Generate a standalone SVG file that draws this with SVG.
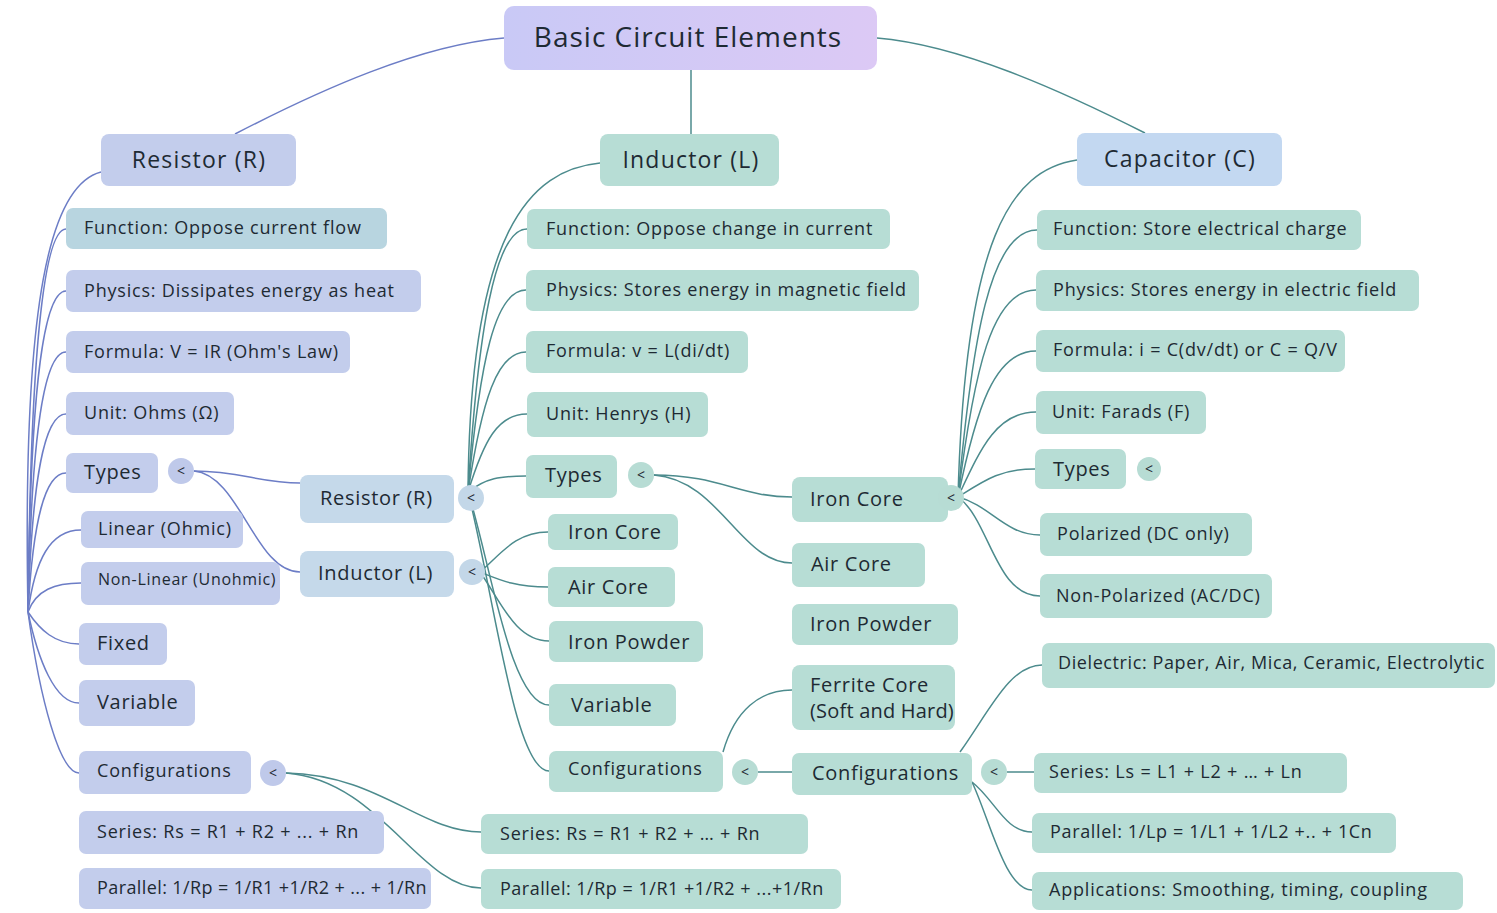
<svg xmlns="http://www.w3.org/2000/svg" width="1497" height="913" viewBox="0 0 1497 913">
<defs>
<linearGradient id="gRoot" x1="0" y1="0" x2="1" y2="0"><stop offset="0" stop-color="#c9c9f6"/><stop offset="1" stop-color="#dcc9f5"/></linearGradient>
<style>
text{font-family:"Open Sans","Liberation Sans",sans-serif;fill:#1e2a33;}
.b{fill:#c3cdec;}
.bc{fill:#b8d5e0;}
.lb{fill:#c5d9ea;}
.t{fill:#b7ddd5;}
.cap{fill:#c3d8f1;}
.cb{fill:#bfc9ea;}
.ct{fill:#b7dcd4;}
.cl{fill:#c3d7e8;}
.s{font-size:18px;letter-spacing:0.8px;}
.m{font-size:20px;letter-spacing:0.7px;}
.h{font-size:23px;letter-spacing:1.2px;}
.k{font-size:14px;text-anchor:middle;}
.lnb{fill:none;stroke:#6c7dc6;stroke-width:1.5;}
.lnt{fill:none;stroke:#4c8b8d;stroke-width:1.5;}
</style>
</defs>
<rect width="1497" height="913" fill="#ffffff"/>

<g id="connectors">
<!-- root -->
<path class="lnb" d="M504,38 C420,45 320,90 235,134"/>
<path class="lnt" d="M877,38 C960,45 1060,90 1145,133"/>
<path class="lnt" d="M691,70 L691,134"/>
<!-- left resistor fan -->
<path class="lnb" d="M101,172 C50,185 22,300 28,612"/>
<path class="lnb" d="M28,612 C30,400 40,229 66,229"/>
<path class="lnb" d="M28,612 C30,420 40,291 66,291"/>
<path class="lnb" d="M28,612 C31,450 42,352 66,352"/>
<path class="lnb" d="M28,612 C32,480 44,414 66,414"/>
<path class="lnb" d="M28,612 C33,520 45,473 66,473"/>
<path class="lnb" d="M28,612 C35,560 50,530 81,530"/>
<path class="lnb" d="M28,612 C36,590 55,583 81,583"/>
<path class="lnb" d="M28,612 C40,630 55,644 79,644"/>
<path class="lnb" d="M28,612 C38,660 55,703 79,703"/>
<path class="lnb" d="M28,612 C40,700 60,773 79,773"/>
<path class="lnb" d="M194,471 C240,471 260,483 300,483"/>
<path class="lnb" d="M194,471 C240,475 255,572 300,572"/>
<path class="lnt" d="M286,773 C380,775 420,832 481,832"/>
<path class="lnt" d="M286,773 C380,780 420,888 481,888"/>
<!-- inductor fan -->
<path class="lnt" d="M600,163 C530,170 470,230 468,492"/>
<path class="lnt" d="M468,492 C478,330 495,229 527,229"/>
<path class="lnt" d="M468,492 C480,360 495,290 526,290"/>
<path class="lnt" d="M468,492 C482,400 497,352 526,352"/>
<path class="lnt" d="M468,492 C484,440 498,414 527,414"/>
<path class="lnt" d="M468,492 C486,478 500,476 526,476"/>
<path class="lnt" d="M480,572 C500,555 515,532 548,532"/>
<path class="lnt" d="M480,572 C500,580 515,587 548,587"/>
<path class="lnt" d="M480,572 C500,600 515,641 549,641"/>
<path class="lnt" d="M468,492 C490,560 510,705 549,705"/>
<path class="lnt" d="M468,492 C495,600 515,771 549,771"/>
<path class="lnt" d="M654,475 C720,475 740,497 792,497"/>
<path class="lnt" d="M654,475 C720,480 740,563 792,563"/>
<path class="lnt" d="M723,752 C735,710 760,690 792,690"/>
<path class="lnt" d="M758,772 L792,772"/>
<!-- capacitor fan -->
<path class="lnt" d="M1077,160 C1010,170 965,240 958,497"/>
<path class="lnt" d="M958,497 C972,340 990,230 1037,230"/>
<path class="lnt" d="M958,497 C974,370 992,290 1036,290"/>
<path class="lnt" d="M958,497 C976,410 994,351 1036,351"/>
<path class="lnt" d="M958,497 C980,450 996,412 1036,412"/>
<path class="lnt" d="M958,497 C985,480 1000,469 1035,469"/>
<path class="lnt" d="M958,497 C990,505 1005,535 1040,535"/>
<path class="lnt" d="M958,497 C990,520 995,596 1040,596"/>
<path class="lnt" d="M960,752 C990,710 1010,665 1042,665"/>
<path class="lnt" d="M1007,772 L1034,772"/>
<path class="lnt" d="M972,782 C995,800 1005,832 1032,832"/>
<path class="lnt" d="M972,782 C990,820 1005,890 1032,890"/>
</g>

<g id="root"><rect x="504" y="6" width="373" height="64" rx="10" fill="url(#gRoot)"/><text x="688" y="47" font-size="28" letter-spacing="1" text-anchor="middle">Basic Circuit Elements</text></g>

<g id="resistor"><rect class="b" x="101" y="134" width="195" height="52" rx="8"/><text class="h" x="199" y="168" text-anchor="middle">Resistor (R)</text></g>
<g id="inductor"><rect class="t" x="600" y="134" width="179" height="52" rx="8"/><text class="h" x="691" y="168" text-anchor="middle">Inductor (L)</text></g>
<g id="capacitor"><rect class="cap" x="1077" y="133" width="205" height="53" rx="8"/><text class="h" x="1180" y="167" text-anchor="middle">Capacitor (C)</text></g>

<!-- left column -->
<g id="r-function"><rect class="bc" x="66" y="208" width="321" height="41" rx="7"/><text class="s" x="84" y="234">Function: Oppose current flow</text></g>
<g id="r-physics"><rect class="b" x="66" y="270" width="355" height="42" rx="7"/><text class="s" x="84" y="297">Physics: Dissipates energy as heat</text></g>
<g id="r-formula"><rect class="b" x="66" y="331" width="284" height="42" rx="7"/><text class="s" x="84" y="358">Formula: V = IR (Ohm's Law)</text></g>
<g id="r-unit"><rect class="b" x="66" y="392" width="168" height="43" rx="7"/><text class="s" x="84" y="419">Unit: Ohms (Ω)</text></g>
<g id="r-types"><rect class="b" x="66" y="453" width="92" height="40" rx="7"/><text class="m" x="84" y="479">Types</text><circle class="cb" cx="181" cy="471" r="13"/><text class="k" x="181" y="476">&lt;</text></g>
<g id="r-linear"><rect class="b" x="81" y="511" width="162" height="37" rx="7"/><text class="s" x="98" y="535">Linear (Ohmic)</text></g>
<g id="r-nonlinear"><rect class="b" x="81" y="562" width="199" height="43" rx="7"/><text x="98" y="585" font-size="16" letter-spacing="0.7">Non-Linear (Unohmic)</text></g>
<g id="r-fixed"><rect class="b" x="79" y="623" width="88" height="42" rx="7"/><text class="m" x="97" y="650">Fixed</text></g>
<g id="r-variable"><rect class="b" x="79" y="680" width="116" height="46" rx="7"/><text class="m" x="97" y="709">Variable</text></g>
<g id="r-config"><rect class="b" x="79" y="751" width="172" height="43" rx="7"/><text class="s" x="97" y="777">Configurations</text><circle class="cb" cx="273" cy="773" r="13"/><text class="k" x="273" y="778">&lt;</text></g>
<g id="r-series"><rect class="b" x="79" y="811" width="305" height="43" rx="7"/><text class="s" x="97" y="838">Series: Rs = R1 + R2 + ... + Rn</text></g>
<g id="r-parallel"><rect class="b" x="79" y="868" width="352" height="41" rx="7"/><text class="s" x="97" y="894" style="letter-spacing:0.4px">Parallel: 1/Rp = 1/R1 +1/R2 + ... + 1/Rn</text></g>

<g id="m-resistor"><rect class="lb" x="300" y="475" width="154" height="48" rx="8"/><text class="m" x="320" y="505">Resistor (R)</text><circle class="cl" cx="471" cy="498" r="13"/><text class="k" x="471" y="503">&lt;</text></g>
<g id="m-inductor"><rect class="lb" x="300" y="551" width="154" height="46" rx="8"/><text class="m" x="318" y="580">Inductor (L)</text><circle class="cl" cx="472" cy="572" r="13"/><text class="k" x="472" y="577">&lt;</text></g>

<!-- middle column -->
<g id="l-function"><rect class="t" x="527" y="209" width="363" height="40" rx="7"/><text class="s" x="546" y="235">Function: Oppose change in current</text></g>
<g id="l-physics"><rect class="t" x="526" y="270" width="393" height="41" rx="7"/><text class="s" x="546" y="296">Physics: Stores energy in magnetic field</text></g>
<g id="l-formula"><rect class="t" x="526" y="331" width="222" height="42" rx="7"/><text class="s" x="546" y="357">Formula: v = L(di/dt)</text></g>
<g id="l-unit"><rect class="t" x="527" y="392" width="181" height="45" rx="7"/><text class="s" x="546" y="420">Unit: Henrys (H)</text></g>
<g id="l-types"><rect class="t" x="526" y="455" width="91" height="43" rx="7"/><text class="m" x="545" y="482">Types</text><circle class="ct" cx="641" cy="475" r="13"/><text class="k" x="641" y="480">&lt;</text></g>
<g id="l-ironcore"><rect class="t" x="548" y="514" width="130" height="36" rx="7"/><text class="m" x="568" y="539">Iron Core</text></g>
<g id="l-aircore"><rect class="t" x="548" y="567" width="127" height="40" rx="7"/><text class="m" x="568" y="594">Air Core</text></g>
<g id="l-ironpowder"><rect class="t" x="549" y="621" width="154" height="41" rx="7"/><text class="m" x="568" y="649">Iron Powder</text></g>
<g id="l-variable"><rect class="t" x="549" y="684" width="127" height="42" rx="7"/><text class="m" x="571" y="712">Variable</text></g>
<g id="l-config"><rect class="t" x="549" y="751" width="174" height="41" rx="7"/><text class="s" x="568" y="775">Configurations</text><circle class="ct" cx="745" cy="772" r="13"/><text class="k" x="745" y="777">&lt;</text></g>
<g id="l-series"><rect class="t" x="481" y="814" width="327" height="40" rx="7"/><text class="s" x="500" y="840">Series: Rs = R1 + R2 +  … + Rn</text></g>
<g id="l-parallel"><rect class="t" x="481" y="869" width="360" height="40" rx="7"/><text class="s" x="500" y="895" style="letter-spacing:0.5px">Parallel: 1/Rp = 1/R1 +1/R2 + ...+1/Rn</text></g>

<g id="c-ironcore"><rect class="t" x="792" y="477" width="156" height="45" rx="8"/><text class="m" x="810" y="506">Iron Core</text><circle class="ct" cx="951" cy="498" r="13"/><text class="k" x="951" y="503">&lt;</text></g>
<g id="c-aircore"><rect class="t" x="792" y="543" width="133" height="44" rx="7"/><text class="m" x="811" y="571">Air Core</text></g>
<g id="c-ironpowder"><rect class="t" x="792" y="604" width="166" height="41" rx="7"/><text class="m" x="810" y="631">Iron Powder</text></g>
<g id="c-ferrite"><rect class="t" x="792" y="665" width="163" height="65" rx="8"/><text class="m" x="810" y="692">Ferrite Core</text><text class="m" x="810" y="718" style="letter-spacing:0.2px">(Soft and Hard)</text></g>
<g id="c-config"><rect class="t" x="792" y="753" width="180" height="42" rx="7"/><text class="m" x="812" y="780">Configurations</text><circle class="ct" cx="994" cy="772" r="13"/><text class="k" x="994" y="777">&lt;</text></g>

<!-- capacitor column -->
<g id="c-function"><rect class="t" x="1037" y="210" width="324" height="40" rx="7"/><text class="s" x="1053" y="235">Function: Store electrical charge</text></g>
<g id="c-physics"><rect class="t" x="1036" y="270" width="383" height="41" rx="7"/><text class="s" x="1053" y="296">Physics: Stores energy in electric field</text></g>
<g id="c-formula"><rect class="t" x="1036" y="330" width="309" height="42" rx="7"/><text class="s" x="1053" y="356">Formula: i = C(dv/dt) or C = Q/V</text></g>
<g id="c-unit"><rect class="t" x="1036" y="391" width="170" height="43" rx="7"/><text class="s" x="1052" y="418">Unit: Farads (F)</text></g>
<g id="c-types"><rect class="t" x="1035" y="449" width="91" height="40" rx="7"/><text class="m" x="1053" y="476">Types</text><circle class="ct" cx="1149" cy="469" r="12"/><text class="k" x="1149" y="474">&lt;</text></g>
<g id="c-polarized"><rect class="t" x="1040" y="513" width="212" height="43" rx="7"/><text class="s" x="1057" y="540">Polarized (DC only)</text></g>
<g id="c-nonpolarized"><rect class="t" x="1040" y="574" width="232" height="44" rx="7"/><text class="s" x="1056" y="602">Non-Polarized (AC/DC)</text></g>
<g id="c-dielectric"><rect class="t" x="1042" y="643" width="453" height="45" rx="7"/><text class="s" x="1058" y="669" style="letter-spacing:0.6px">Dielectric: Paper, Air, Mica, Ceramic, Electrolytic</text></g>
<g id="c-series"><rect class="t" x="1034" y="753" width="313" height="40" rx="7"/><text class="s" x="1049" y="778">Series: Ls = L1 + L2 +  … + Ln</text></g>
<g id="c-parallel"><rect class="t" x="1032" y="813" width="364" height="40" rx="7"/><text class="s" x="1050" y="838" style="letter-spacing:0.65px">Parallel: 1/Lp = 1/L1 + 1/L2 +.. + 1Cn</text></g>
<g id="c-applications"><rect class="t" x="1032" y="872" width="431" height="38" rx="7"/><text class="s" x="1049" y="896">Applications: Smoothing, timing, coupling</text></g>
</svg>
